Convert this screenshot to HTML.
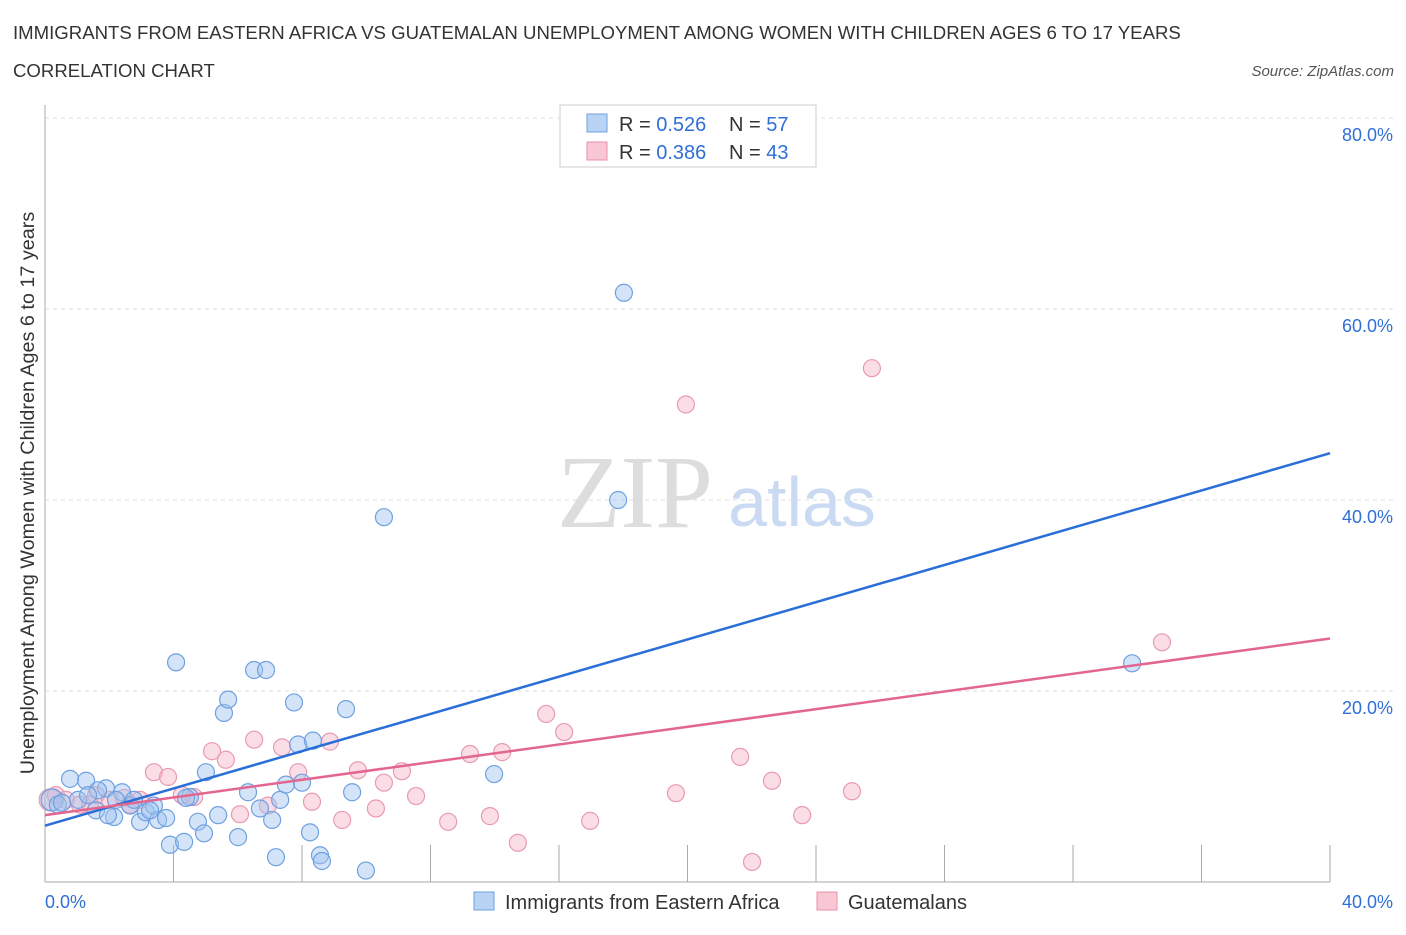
<!DOCTYPE html>
<html><head><meta charset="utf-8"><style>
body{margin:0;background:#fff;font-family:"Liberation Sans",sans-serif}
</style></head><body>
<svg id="c" width="1406" height="930" font-family="Liberation Sans, sans-serif">
<text x="13" y="39" font-size="18.6" fill="#333">IMMIGRANTS FROM EASTERN AFRICA VS GUATEMALAN UNEMPLOYMENT AMONG WOMEN WITH CHILDREN AGES 6 TO 17 YEARS</text>
<text x="13" y="77" font-size="18.6" fill="#333">CORRELATION CHART</text>
<text x="1394" y="76" font-size="15" fill="#555" font-style="italic" text-anchor="end">Source: ZipAtlas.com</text>
<text x="635" y="527" font-size="104" fill="#ddd" font-family="Liberation Serif, serif" text-anchor="middle">ZIP</text>
<text x="802" y="526" font-size="70" fill="#c9daf2" text-anchor="middle">atlas</text>
<g id="grid"></g><g id="marks"></g>
<text transform="translate(34,493) rotate(-90)" font-size="19.8" fill="#333" text-anchor="middle">Unemployment Among Women with Children Ages 6 to 17 years</text>
<rect x="560" y="105" width="256" height="62" fill="#fff" stroke="#ccc"/>
<rect x="587" y="114" width="20" height="18" fill="#b9d3f5" stroke="#6fa0e0"/>
<text x="619" y="131" font-size="20" fill="#333">R = <tspan fill="#2f6fd6">0.526</tspan></text>
<text x="729" y="131" font-size="20" fill="#333">N = <tspan fill="#2f6fd6">57</tspan></text>
<rect x="587" y="142" width="20" height="18" fill="#f9c7d4" stroke="#e890aa"/>
<text x="619" y="159" font-size="20" fill="#333">R = <tspan fill="#2f6fd6">0.386</tspan></text>
<text x="729" y="159" font-size="20" fill="#333">N = <tspan fill="#2f6fd6">43</tspan></text>
<rect x="474" y="892" width="20" height="18" fill="#b9d3f5" stroke="#6fa0e0"/>
<text x="505" y="909" font-size="20" fill="#333">Immigrants from Eastern Africa</text>
<rect x="817" y="892" width="20" height="18" fill="#f9c7d4" stroke="#e890aa"/>
<text x="848" y="909" font-size="20" fill="#333">Guatemalans</text>
</svg>
<script>
const yTicks=[20,40,60,80];
const xTickLabels=["0.0%","40.0%"];
const blueX=[0.22,0.40,0.53,0.78,1.28,1.59,1.90,2.15,2.40,2.65,2.96,3.14,3.39,3.52,3.77,3.89,4.08,4.33,4.51,4.76,4.95,5.01,5.39,5.57,5.70,6.01,6.32,6.51,6.88,7.07,7.19,7.32,7.50,7.75,7.88,8.00,8.25,8.34,8.56,8.62,9.37,9.56,9.99,10.55,13.98,17.84,18.02,33.84,1.65,2.77,2.21,1.03,1.34,1.96,6.69,4.39,3.27];
const blueY=[8.6,8.1,8.3,10.8,10.6,7.5,9.8,6.8,9.4,8.0,6.3,7.3,8.0,6.5,6.7,3.9,23.0,4.2,8.9,6.3,5.1,11.5,7.0,17.7,19.1,4.7,9.4,22.2,22.2,6.5,2.6,8.6,10.2,18.8,14.4,10.4,5.2,14.8,2.8,2.2,18.1,9.4,1.2,38.2,11.3,40.0,61.7,22.9,9.6,8.6,8.6,8.6,9.1,7.0,7.7,8.8,7.5];
const pinkX=[0.16,0.34,0.65,1.09,1.59,2.02,2.46,2.96,3.39,3.83,4.26,4.64,5.20,5.63,6.07,6.51,6.94,7.38,7.88,8.31,8.87,9.25,9.74,10.30,10.55,11.11,11.55,12.55,13.23,13.85,14.23,14.72,15.60,16.16,16.97,19.64,19.95,21.64,22.01,22.63,23.57,25.12,25.74,34.77,1.40,2.65];
const pinkY=[8.6,9.1,8.6,8.1,9.1,8.6,8.8,8.6,11.5,11.0,9.1,8.9,13.7,12.8,7.1,14.9,8.0,14.1,11.5,8.4,14.7,6.5,11.7,7.7,10.4,11.6,9.0,6.3,13.4,6.9,13.6,4.1,17.6,15.7,6.4,9.3,50.0,13.1,2.1,10.6,7.0,9.5,53.8,25.1,8.1,8.1];
const blueTrend=[5.9,44.9];
const pinkTrend=[7.0,25.5];
const NS="http://www.w3.org/2000/svg";
const X=v=>45+v/40*1285, Y=v=>882-v/20*191;
function mk(p,t,a){const e=document.createElementNS(NS,t);for(const k in a)e.setAttribute(k,a[k]);p.appendChild(e);return e;}
const g=document.getElementById('grid'),m=document.getElementById('marks');
yTicks.forEach(t=>{
 const l=mk(g,'line',{x1:45,x2:1395,y1:Y(t),y2:Y(t),stroke:'#ddd','stroke-dasharray':'4,4'});
 
 
 const tx=mk(g,'text',{x:1393,y:Y(t)+23,'font-size':18,fill:'#2f6fd6','text-anchor':'end'});tx.textContent=t.toFixed(1)+'%';
 
 
});
const ax=mk(g,'line',{x1:45,x2:1330,y1:882,y2:882,stroke:'#aaa'});


const ay=mk(g,'line',{x1:45,x2:45,y1:105,y2:882,stroke:'#aaa'});


for(let i=1;i<=10;i++){const t=mk(g,'line',{x1:X(i*4),x2:X(i*4),y1:845,y2:882,stroke:'#aaa'});
 
 }
xTickLabels.forEach((s,i)=>{const t=mk(g,'text',{x:i?1393:45,y:908,'font-size':18,fill:'#2f6fd6','text-anchor':i?'end':'start'});t.textContent=s;
 
 });
pinkX.forEach((v,i)=>{const c=mk(m,'circle',{cx:X(v),cy:Y(pinkY[i]),r:i==0?11:8.5,fill:'rgba(247,180,198,0.45)',stroke:'#e99ab1','stroke-width':1.2});
 
 });
blueX.forEach((v,i)=>{const c=mk(m,'circle',{cx:X(v),cy:Y(blueY[i]),r:i==0?11:8.5,fill:'rgba(160,196,240,0.45)',stroke:'#6fa0e0','stroke-width':1.2});
 
 });
const bl=mk(m,'line',{x1:X(0),y1:Y(blueTrend[0]),x2:X(40),y2:Y(blueTrend[1]),stroke:'#2a6fd8','stroke-width':2.5});


const pl=mk(m,'line',{x1:X(0),y1:Y(pinkTrend[0]),x2:X(40),y2:Y(pinkTrend[1]),stroke:'#e2668f','stroke-width':2.5});


</script>
</body></html>
